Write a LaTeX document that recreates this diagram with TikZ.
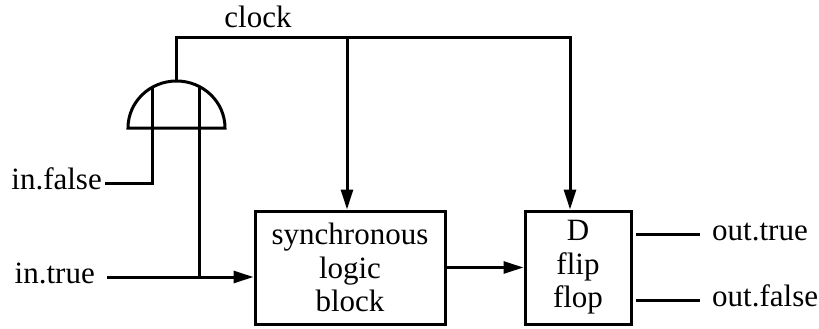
\documentclass[tikz,border=0pt]{standalone}
\usepackage{fontspec}
\setmainfont{Liberation Serif}
\usetikzlibrary{arrows.meta}
\usetikzlibrary{positioning}

\begin{document}
\begin{tikzpicture}[x=1pt,y=-1pt,
    every node/.style={font=\fontsize{31}{33.5}\selectfont},
    wire/.style={line width=3pt},
    sig/.style={wire,-{Triangle[length=20pt,width=12pt]}},
    blk/.style={draw,line width=3pt,minimum height=113pt,inner sep=0pt,align=center},
    port/.style={inner sep=0pt,text height=20pt,text depth=7pt}]
    \useasboundingbox (0,0) rectangle (819,329);

    \node[blk,minimum width=190pt] (logic) at (350,267.5) {synchronous\\logic\\block};
    \node[blk,minimum width=106pt,right=77pt of logic] (dff) {D\\flip\\flop};

    \node[anchor=base] (clock) at (258,28) {clock};
    \node[port,anchor=east] (infalse) at (102,183) {in.false};
    \node[port,anchor=east] (intrue) at (95,277) {in.true};
    \node[port,anchor=west] (outtrue) at (712,234) {out.true};
    \node[port,anchor=west] (outfalse) at (712,300) {out.false};

    % and gate
    \coordinate (gate) at (176.5,128);
    \coordinate (gtop) at (176.5,81);
    \coordinate (ga) at (152,87);
    \coordinate (gb) at (199,87);
    \draw[wire] (gate) ++(-48.5,0) arc[start angle=180,end angle=0,x radius=48.5pt,y radius=47pt] -- cycle;

    % clock tree
    \coordinate (ck1) at (347,38);
    \coordinate (ck2) at (570,38);
    \draw[sig] (gtop) |- (ck2) -- (ck2 |- dff.north);
    \draw[sig] (ck1) -- (ck1 |- logic.north);

    \draw[wire,shorten <=3pt] (infalse.east) -| (ga);
    \draw[sig,shorten <=12pt] (intrue.east) -- (intrue.east -| logic.west);
    \draw[wire] (gb) -- (gb |- intrue.east);
    \draw[sig] (logic.east) -- (dff.west);
    \draw[wire,shorten <=3pt,shorten >=12pt] (outtrue -| dff.east) -- (outtrue.west);
    \draw[wire,shorten <=3pt,shorten >=12pt] (outfalse -| dff.east) -- (outfalse.west);
\end{tikzpicture}
\end{document}
